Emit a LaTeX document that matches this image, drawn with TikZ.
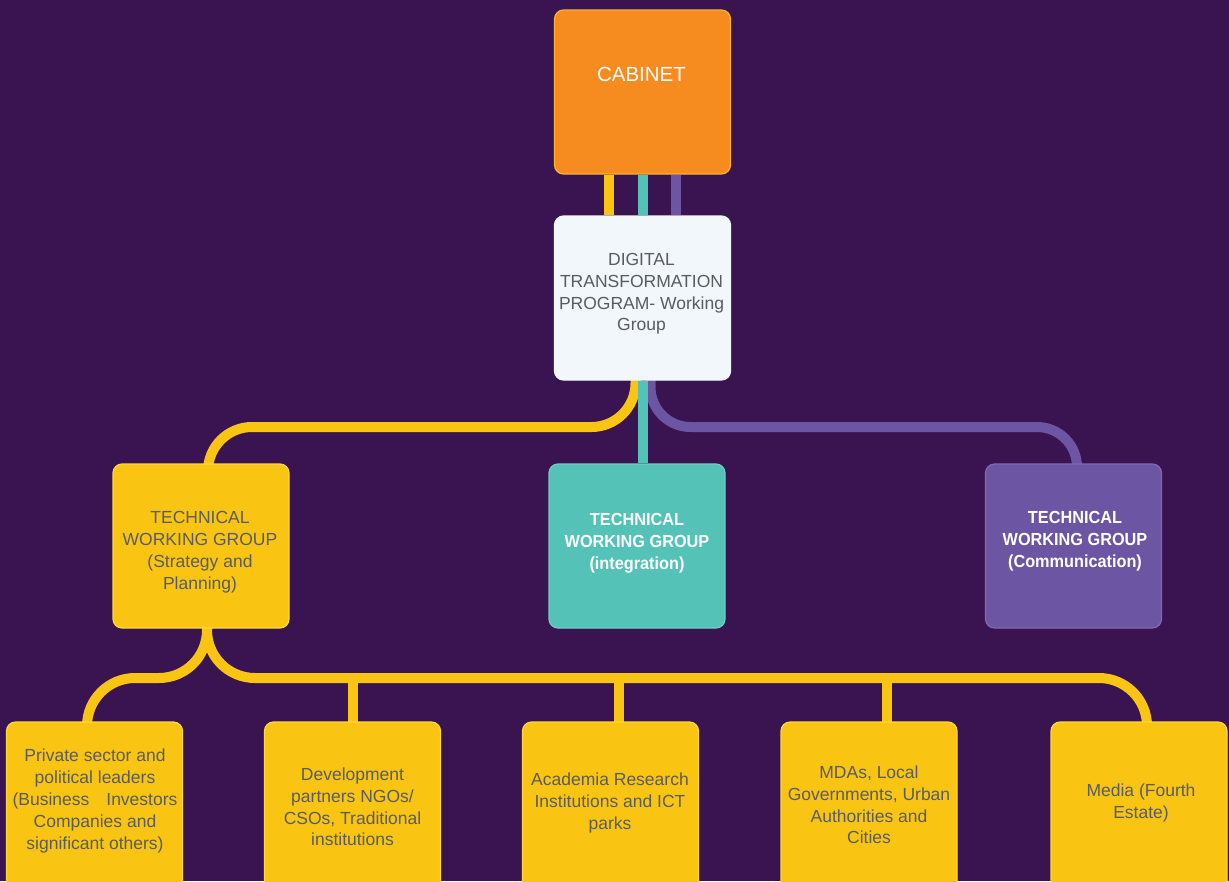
\documentclass[tikz,border=0pt]{standalone}
\usepackage{fontspec}
\setmainfont{Liberation Sans}
\newfontfamily\cbold[FakeStretch=0.93]{Liberation Sans}
\usetikzlibrary{calc}

\definecolor{bgc}{HTML}{3A1450}
\definecolor{ylw}{HTML}{FAC512}
\definecolor{ylwb}{HTML}{FCD93A}
\definecolor{org}{HTML}{F68B1F}
\definecolor{orgb}{HTML}{F9B233}
\definecolor{tea}{HTML}{55C2B8}
\definecolor{teab}{HTML}{6DCFC5}
\definecolor{pur}{HTML}{6C55A2}
\definecolor{purb}{HTML}{8468B4}
\definecolor{pale}{HTML}{F2F7FB}
\definecolor{txt}{HTML}{595C60}

\pgfdeclarelayer{bg}
\pgfdeclarelayer{edges}
\pgfsetlayers{bg,edges,main}

\tikzset{
  box/.style={rectangle, rounded corners=9pt, line width=1.2pt, inner sep=0pt,
              minimum width=176pt, minimum height=164pt},
  lowbox/.style={box, fill=ylw, draw=ylwb, minimum height=172pt},
  label/.style={align=center, inner sep=0pt, text=txt,
                font=\fontsize{17.5}{21.8}\selectfont},
  boldlabel/.style={align=center, inner sep=0pt, text=white,
                font=\cbold\bfseries\fontsize{17.5}{21.8}\selectfont},
  yl/.style={draw=ylw, line width=10pt},
  tl/.style={draw=tea, line width=10pt},
  pl/.style={draw=pur, line width=10pt},
}

\begin{document}
\begin{tikzpicture}[x=1pt,y=-1pt]
\path[use as bounding box] (0,0) rectangle (1229,881);
\begin{pgfonlayer}{bg}
  \fill[bgc] (0,0) rectangle (1229,881);
\end{pgfonlayer}

% top level
\node[box, fill=org, draw=orgb] (cab) at (642.5,92) {};
\node[box, fill=pale, draw=pale] (dtp) at (642.5,298) {};
\node[align=center, inner sep=0pt, text=white, font=\fontsize{20.5}{24}\selectfont]
  (cabt) at (641.5,74) {CABINET};
\node[label] (dtpt) at (641.5,294) {DIGITAL\\TRANSFORMATION\\PROGRAM- Working\\Group};

% technical working groups
\node[box, fill=ylw, draw=ylwb] (tws) at (201,546) {};
\node[box, fill=tea, draw=teab] (twi) at (637,546) {};
\node[box, fill=pur, draw=purb] (twc) at (1073.5,546) {};
\node[label] (twst) at (200,552) {TECHNICAL\\WORKING GROUP\\(Strategy and\\Planning)};
\node[boldlabel] (twit) at (637,543) {TECHNICAL\\WORKING GROUP\\(integration)};
\node[boldlabel] (twct) at (1075,541) {TECHNICAL\\WORKING GROUP\\(Communication)};

% stakeholder groups
\node[lowbox] (b1) at (94.5,808) {};
\node[lowbox] (b2) at (352.5,808) {};
\node[lowbox] (b3) at (610.5,808) {};
\node[lowbox] (b4) at (869,808) {};
\node[lowbox] (b5) at (1139,808) {};
\node[label] (b1t) at (95,801) {Private sector and\\political leaders\\(Business\hspace{17pt}Investors\\Companies and\\significant others)};
\node[label] (b2t) at (352.5,807) {Development\\partners NGOs/\\CSOs, Traditional\\institutions};
\node[label] (b3t) at (610,803) {Academia Research\\Institutions and ICT\\parks};
\node[label] (b4t) at (869,805) {MDAs, Local\\Governments, Urban\\Authorities and\\Cities};
\node[label] (b5t) at (1141,803) {Media (Fourth\\Estate)};

% connectors
\begin{pgfonlayer}{edges}
  \coordinate (hy) at (0,427);
  \coordinate (hz) at (0,678);
  % cabinet to working group
  \draw[yl] ([xshift=-33.5]cab.south) -- ([xshift=-33.5]dtp.north);
  \draw[tl] (cab.south) -- (dtp.north);
  \draw[pl] ([xshift=33.5]cab.south) -- ([xshift=33.5]dtp.north);
  % working group to technical groups
  \coordinate (ta) at ([xshift=7]tws.north);
  \coordinate (pa) at ([xshift=3.5]twc.north);
  \draw[yl, rounded corners=44pt] ([xshift=-7,yshift=5]dtp.south) |- (hy -| ta) -- ([yshift=-15]ta);
  \draw[pl, rounded corners=40pt] ([xshift=8,yshift=5]dtp.south) |- (hy -| pa) -- ([yshift=-15]pa);
  \draw[tl] (dtp.south) -- (dtp.south |- twi.north);
  % strategy group to stakeholders
  \coordinate (sa) at ([xshift=6,yshift=5]tws.south);
  \coordinate (ba1) at ([xshift=-7.5]b1.north);
  \coordinate (ba2) at (b2.north);
  \coordinate (ba3) at ([xshift=8.5]b3.north);
  \coordinate (ba4) at ([xshift=18]b4.north);
  \coordinate (ba5) at ([xshift=8]b5.north);
  \draw[yl, rounded corners=48pt] (sa) |- (hz -| ba1) -- ([yshift=-15]ba1);
  \draw[yl, rounded corners=48pt] (sa) |- (hz -| ba5) -- ([yshift=-15]ba5);
  \draw[yl] (ba2 |- hz) -- ([yshift=-5]ba2);
  \draw[yl] (ba3 |- hz) -- ([yshift=-5]ba3);
  \draw[yl] (ba4 |- hz) -- ([yshift=-5]ba4);
\end{pgfonlayer}
\end{tikzpicture}
\end{document}
